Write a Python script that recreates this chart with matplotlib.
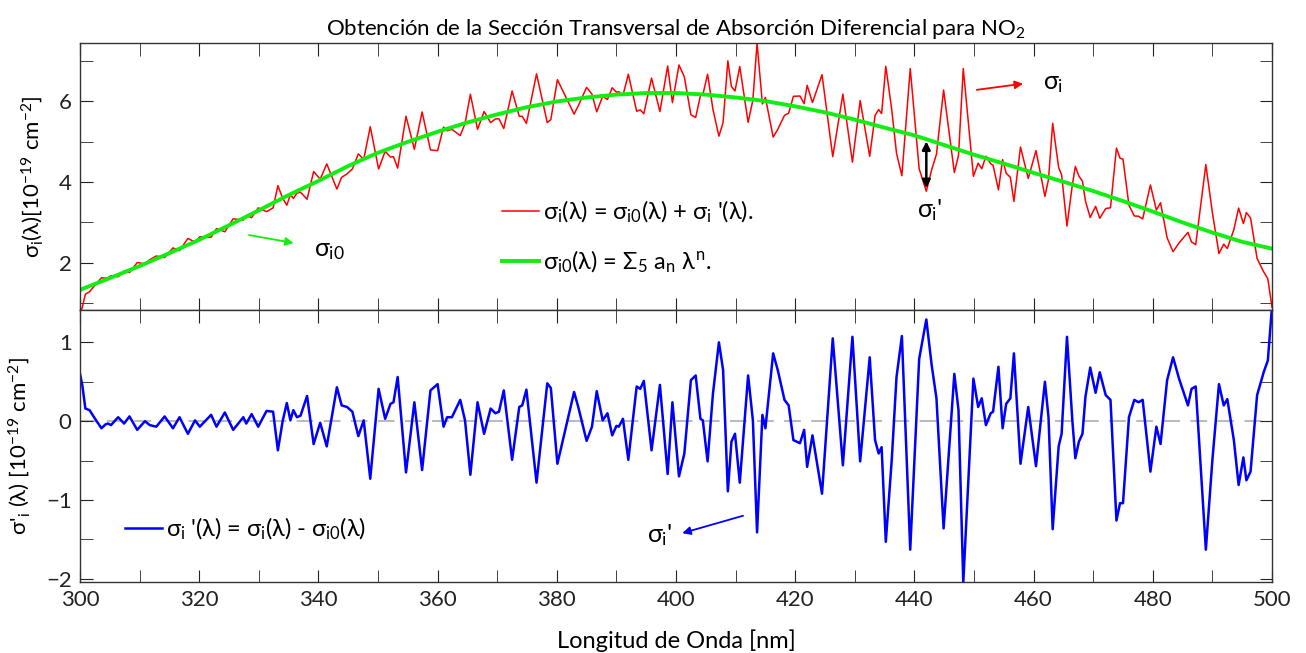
import numpy as np
import matplotlib
matplotlib.use("Agg")
import matplotlib.pyplot as plt
from matplotlib.ticker import MultipleLocator

plt.rcParams['font.family'] = ['Lato', 'DejaVu Sans']
plt.rcParams['mathtext.fontset'] = 'custom'
plt.rcParams['mathtext.rm'] = 'Lato'
plt.rcParams['mathtext.it'] = 'Lato'
plt.rcParams['mathtext.bf'] = 'Lato:bold'
plt.rcParams['mathtext.sf'] = 'Lato'
plt.rcParams['mathtext.fallback'] = 'stixsans'

# ---- data ----
# smooth polynomial fit sigma_i0 (10^-19 cm^-2), every 5 nm
fit_wl = list(range(300, 505, 5))
fit_val = [1.33, 1.62, 1.92, 2.24, 2.57, 2.93, 3.30, 3.68, 4.03, 4.40,
           4.73, 5.00, 5.25, 5.48, 5.68, 5.86, 6.00, 6.10, 6.17, 6.21,
           6.21, 6.17, 6.10, 6.01, 5.88, 5.73, 5.55, 5.35, 5.16, 4.92,
           4.68, 4.46, 4.23, 4.01, 3.78, 3.53, 3.27, 3.00, 2.75, 2.52, 2.35]

# differential cross section sigma_i' (as plotted), extrema / knots
diff_wl = [300.0, 300.4, 300.9, 301.6, 302.7, 303.6, 304.3, 304.7, 305.2, 306.4,
           307.4, 308.3, 309.6, 310.9, 311.7, 312.8, 314.2, 315.6, 316.7, 318.1,
           319.3, 320.1, 322.0, 322.9, 324.3, 325.7, 327.4, 327.9, 328.8, 329.9,
           331.3, 332.4, 333.2, 334.0, 334.7, 335.3, 335.8, 336.4, 337.0, 338.1,
           339.2, 340.3, 341.4, 343.1, 343.9, 344.8, 345.7, 346.7, 347.6, 348.7,
           350.1, 351.2, 352.1, 352.6, 353.3, 354.7, 356.1, 357.4, 358.8, 360.0,
           361.0, 361.6, 362.4, 363.8, 364.6, 365.5, 366.7, 367.8, 368.9, 369.7,
           370.3, 371.1, 372.5, 373.7, 374.2, 374.9, 376.6, 378.4, 379.0, 380.1,
           381.8, 382.9, 383.6, 385.0, 385.9, 386.7, 387.7, 388.5, 389.3, 390.0,
           390.4, 391.1, 392.0, 393.4, 394.0, 394.6, 395.9, 397.3, 398.6, 399.4,
           400.5, 401.4, 402.5, 403.3, 404.1, 404.5, 405.3, 406.2, 407.2, 407.9,
           408.7, 409.3, 409.9, 410.7, 412.1, 412.9, 413.6, 414.5, 415.0, 416.3,
           417.1, 418.2, 418.9, 419.7, 420.8, 421.5, 422.0, 422.9, 424.5, 426.3,
           428.0, 429.6, 430.9, 432.5, 433.4, 434.0, 434.5, 435.2, 436.2, 437.0,
           437.9, 439.3, 440.8, 442.0, 442.9, 443.7, 444.9, 446.7, 447.4, 448.2,
           449.9, 450.7, 451.3, 452.0, 452.8, 453.2, 454.1, 454.8, 455.4, 456.1,
           456.7, 457.8, 459.1, 460.4, 461.9, 462.5, 463.2, 464.2, 464.7, 465.6,
           466.5, 467.0, 467.6, 468.2, 468.7, 469.5, 470.4, 471.1, 472.1, 472.9,
           473.9, 474.5, 475.0, 476.0, 476.9, 477.6, 478.3, 479.6, 480.6, 481.3,
           482.4, 483.4, 484.4, 485.9, 486.5, 487.2, 488.9, 490.0, 491.1, 491.9,
           492.5, 493.6, 494.4, 495.2, 495.7, 496.4, 497.5, 498.6, 499.3, 500.0]
diff_val = [0.60, 0.45, 0.16, 0.14, 0.01, -0.09, -0.04, -0.03, -0.05, 0.05,
            -0.03, 0.06, -0.11, 0.00, -0.05, -0.07, 0.06, -0.09, 0.05, -0.16,
            0.01, -0.07, 0.08, -0.07, 0.11, -0.11, 0.05, -0.03, 0.09, -0.07,
            0.13, 0.12, -0.37, 0.00, 0.23, 0.01, 0.14, 0.05, 0.07, 0.32,
            -0.29, -0.02, -0.32, 0.43, 0.20, 0.18, 0.12, -0.19, 0.01, -0.73,
            0.41, 0.03, 0.22, 0.24, 0.56, -0.65, 0.24, -0.62, 0.39, 0.47,
            -0.07, 0.05, 0.05, 0.27, 0.01, -0.68, 0.24, -0.16, 0.16, 0.10,
            0.12, 0.39, -0.49, 0.18, 0.20, 0.40, -0.78, 0.48, 0.42, -0.54,
            0.01, 0.37, 0.18, -0.25, -0.07, 0.38, 0.01, 0.10, -0.18, -0.06,
            -0.07, 0.03, -0.49, 0.44, 0.41, 0.51, -0.37, 0.46, -0.67, 0.24,
            -0.70, -0.41, 0.52, 0.58, 0.03, 0.01, -0.51, 0.35, 1.00, 0.65,
            -0.89, -0.26, -0.16, -0.78, 0.58, 0.01, -1.41, 0.08, -0.09, 0.86,
            0.64, 0.27, 0.20, -0.24, -0.28, -0.11, -0.58, -0.18, -0.92, 1.05,
            -0.56, 1.07, -0.51, 0.81, -0.24, -0.41, -0.33, -1.53, -0.49, 0.56,
            1.08, -1.63, 0.79, 1.29, 0.71, 0.29, -1.36, 0.60, 0.14, -2.05,
            0.54, 0.18, 0.29, -0.05, 0.10, 0.12, 0.69, -0.09, 0.22, 0.29,
            0.86, -0.54, 0.18, -0.57, 0.50, 0.05, -1.37, -0.32, -0.16, 1.07,
            0.01, -0.47, -0.26, -0.16, 0.31, 0.68, 0.36, 0.62, 0.33, 0.27,
            -1.26, -1.04, -1.04, 0.05, 0.27, 0.24, 0.27, -0.64, -0.07, -0.29,
            0.52, 0.81, 0.54, 0.20, 0.41, 0.44, -1.63, -0.49, 0.47, 0.20,
            0.28, -0.24, -0.81, -0.46, -0.75, -0.64, 0.33, 0.62, 0.77, 1.45]

# total cross section sigma_i, related by the plotted relation (sigma_i0 - sigma_i')
fit_at_diff = np.interp(diff_wl, fit_wl, fit_val)
total_val = fit_at_diff - np.array(diff_val)

# ---- figure ----
W, H = 1306, 653
fig = plt.figure(figsize=(W / 100, H / 100), dpi=100)

def frac(x0, y0, x1, y1):
    return [x0 / W, 1 - y1 / H, (x1 - x0) / W, (y1 - y0) / H]

ax1 = fig.add_axes(frac(80, 43, 1272, 310))
ax2 = fig.add_axes(frac(80, 310, 1272, 582), sharex=ax1)

FS = 16
red_line, = ax1.plot(diff_wl, total_val, color='#ff0000', lw=1.1)
green_line, = ax1.plot(fit_wl, fit_val, color='#11ee11', lw=2.8)
ax1.set_ylim(0.83, 7.45)
ax1.set_xlim(300, 500)
ax1.yaxis.set_major_locator(MultipleLocator(2))
ax1.yaxis.set_minor_locator(MultipleLocator(1))
ax1.tick_params(labelbottom=False)

ax2.axhline(0, color='#bbbbbb', lw=1.5, ls=(0, (8, 5)), zorder=1)
blue_line, = ax2.plot(diff_wl, diff_val, color='#0000ff', lw=1.8, zorder=2)
ax2.set_ylim(-2.04, 1.41)
ax2.yaxis.set_major_locator(MultipleLocator(1))
ax2.yaxis.set_minor_locator(MultipleLocator(0.5))

for ax in (ax1, ax2):
    ax.xaxis.set_major_locator(MultipleLocator(20))
    ax.xaxis.set_minor_locator(MultipleLocator(10))
    ax.tick_params(which='both', direction='in', top=True, right=True,
                   labelsize=FS, colors='#222222', length=9, pad=6)
    for s in ax.spines.values():
        s.set_color('#333333')
        s.set_linewidth(1.0)

ax1.set_title('Obtención de la Sección Transversal de Absorción Diferencial para NO$_2$',
              fontsize=FS, pad=6)
ax1.set_ylabel(r'$\sigma_\mathrm{i}(\lambda)[10^{-19}\ \mathrm{cm}^{-2}]$', fontsize=FS, labelpad=10)
ax2.set_ylabel(r"$\sigma$" + "'" + r"$_\mathrm{i}$ ($\lambda$) [10$^{-19}$ cm$^{-2}$]",
               fontsize=FS, labelpad=10, fontweight='normal')
ax2.set_xlabel('Longitud de Onda [nm]', fontsize=FS + 1, labelpad=14)
fig.align_ylabels([ax1, ax2])

LFS = 17
leg1 = ax1.legend([red_line, green_line],
                  [r"$\sigma_\mathrm{i}(\lambda)$ = $\sigma_\mathrm{i0}(\lambda)$ + $\sigma_\mathrm{i}$ '($\lambda$).",
                   r"$\sigma_\mathrm{i0}(\lambda)$ = $\Sigma_5$ a$_\mathrm{n}$ $\lambda^\mathrm{n}$."],
                  loc='upper left', bbox_to_anchor=(502 / W, 1 - 199 / H),
                  bbox_transform=fig.transFigure, frameon=False, fontsize=LFS,
                  borderpad=0, borderaxespad=0,
                  handlelength=1.55, handletextpad=0.2, labelspacing=0.98)
leg2 = ax2.legend([blue_line],
                  [r"$\sigma_\mathrm{i}$ '($\lambda$) = $\sigma_\mathrm{i}(\lambda)$ - $\sigma_\mathrm{i0}(\lambda)$"],
                  loc='upper left', bbox_to_anchor=(125 / W, 1 - 516 / H),
                  bbox_transform=fig.transFigure, frameon=False, fontsize=LFS,
                  borderpad=0, borderaxespad=0,
                  handlelength=1.55, handletextpad=0.2)

# annotations
AFS = 18
ax1.annotate('', xy=(336.3, 2.48), xytext=(327.9, 2.70),
             arrowprops=dict(arrowstyle='-|>', color='#11ee11', lw=1.3, mutation_scale=12))
ax1.text(339.3, 2.3, r'$\sigma_\mathrm{i0}$', fontsize=AFS, va='center')
ax1.annotate('', xy=(458.7, 6.45), xytext=(450.0, 6.28),
             arrowprops=dict(arrowstyle='-|>', color='#ff0000', lw=1.3, mutation_scale=12))
ax1.text(461.5, 6.45, r'$\sigma_\mathrm{i}$', fontsize=AFS, va='center')
ax1.annotate('', xy=(442.0, 3.78), xytext=(442.0, 5.08),
             arrowprops=dict(arrowstyle='<|-|>', color='black', lw=1.8, mutation_scale=12))
ax1.text(440.5, 3.3, r"$\sigma_\mathrm{i}$'", fontsize=AFS, va='center')
ax2.annotate('', xy=(400.6, -1.43), xytext=(411.7, -1.19),
             arrowprops=dict(arrowstyle='-|>', color='#0000ff', lw=1.3, mutation_scale=12))
ax2.text(395.2, -1.45, r"$\sigma_\mathrm{i}$'", fontsize=AFS, va='center')

fig.savefig('out.png', dpi=100)
